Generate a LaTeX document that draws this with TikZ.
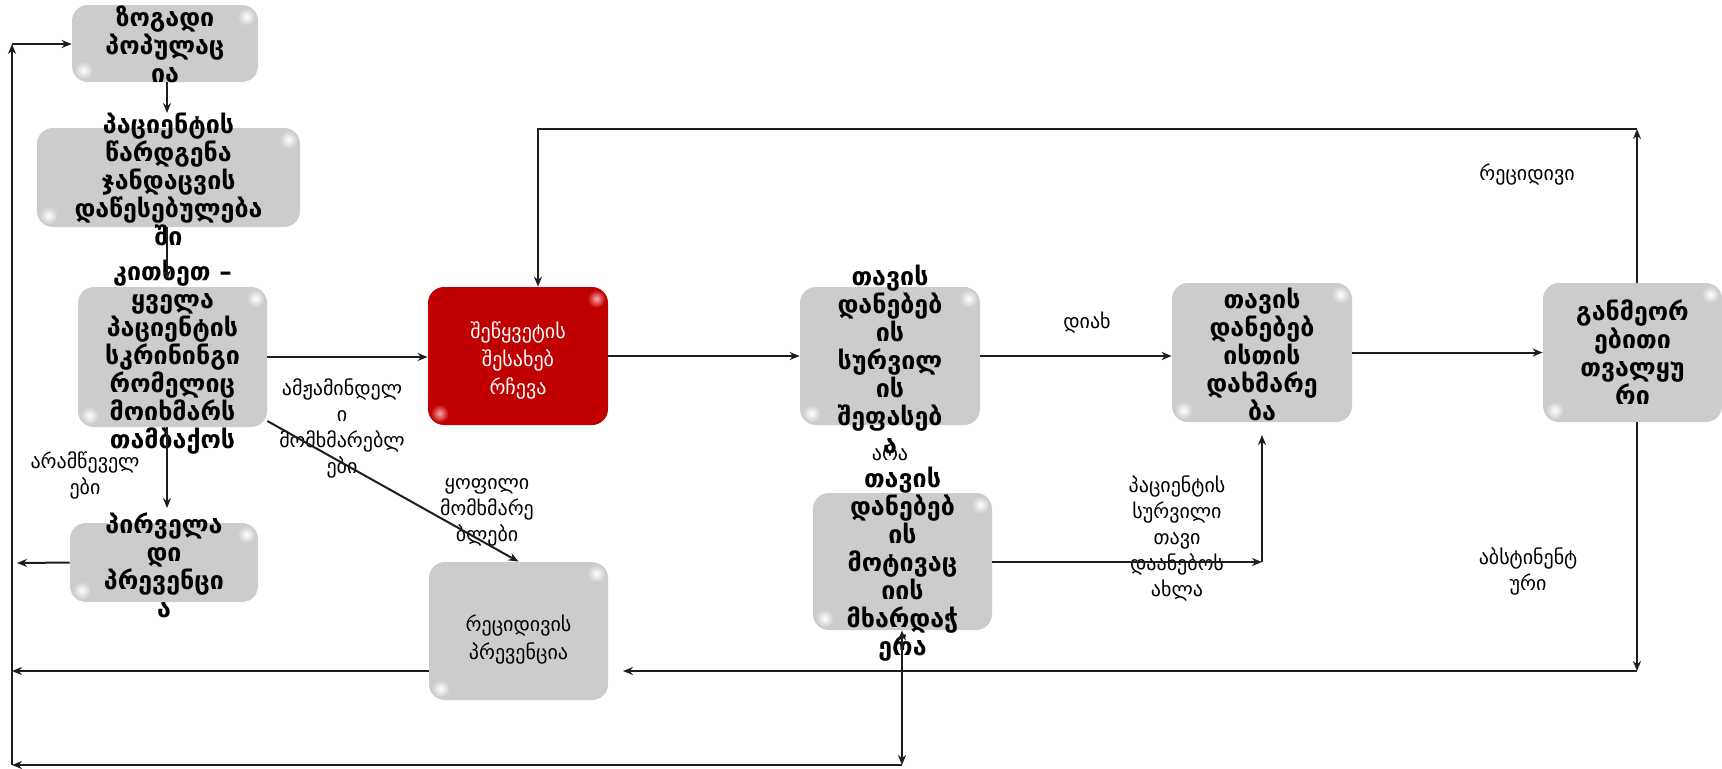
\documentclass[tikz,border=0pt]{standalone}
\usepackage{fontspec}
\setmainfont{DejaVu Sans}
\usetikzlibrary{arrows.meta,calc}
\definecolor{boxgray}{RGB}{205,204,204}
\definecolor{boxred}{RGB}{192,0,0}
\definecolor{linec}{RGB}{30,30,30}
\tikzset{
 box/.style={draw=none, fill=boxgray, rounded corners=8pt, inner sep=0pt},
 redbox/.style={box, fill=boxred},
 btxt/.style={align=center, font=\bfseries\fontsize{12.5}{14}\selectfont, inner sep=0pt},
 wtxt/.style={align=center, font=\fontsize{10}{14}\selectfont, text=white, inner sep=0pt},
 ntxt/.style={align=center, font=\fontsize{10}{14}\selectfont, inner sep=0pt},
 lbl/.style={align=center, font=\fontsize{10}{13}\selectfont, inner sep=0pt},
 arr/.style={draw=linec, line width=1pt, -{Stealth[length=5pt,width=4pt]}},
 arrs/.style={draw=linec, line width=1pt, {Stealth[length=5pt,width=4pt]}-{Stealth[length=5pt,width=4pt]}},
}
\newcommand{\glosspair}[3]{%
 \shade[inner color=#2, outer color=#3] ($(#1.north east)+(-12,12)$) circle[radius=9];
 \shade[inner color=#2, outer color=#3] ($(#1.south west)+(12,-12)$) circle[radius=9];
}
\begin{document}
\begin{tikzpicture}[x=0.5pt,y=-0.5pt]
\fill[white] (0,0) rectangle (1722,768);
\useasboundingbox (0,0) rectangle (1722,768);

% boxes
\node[box, minimum width=93pt, minimum height=38.5pt] (b1) at (165,43.5) {};
\node[box, minimum width=131.5pt, minimum height=49.5pt] (b2) at (168.5,177.5) {};
\node[box, minimum width=94.5pt, minimum height=70pt] (b3) at (172.5,357) {};
\node[box, minimum width=94pt, minimum height=39.5pt] (b4) at (164,562.5) {};
\node[redbox, minimum width=90pt, minimum height=69pt] (b5) at (518,356) {};
\node[box, minimum width=89.5pt, minimum height=69pt] (b6) at (518.5,631) {};
\node[box, minimum width=90pt, minimum height=69pt] (b7) at (890,356) {};
\node[box, minimum width=89.5pt, minimum height=68.5pt] (b8) at (902.5,561.5) {};
\node[box, minimum width=90pt, minimum height=69.5pt] (b9) at (1262,352.5) {};
\node[box, minimum width=89.5pt, minimum height=69.5pt] (b10) at (1632.5,352.5) {};

\glosspair{b1}{white}{boxgray}
\glosspair{b2}{white}{boxgray}
\glosspair{b3}{white}{boxgray}
\glosspair{b4}{white}{boxgray}
\glosspair{b5}{red!35!white}{boxred}
\glosspair{b6}{white}{boxgray}
\glosspair{b7}{white}{boxgray}
\glosspair{b8}{white}{boxgray}
\glosspair{b9}{white}{boxgray}
\glosspair{b10}{white}{boxgray}

% box texts
\node[btxt] (b1t) at ($(b1)+(0,1)$) {ზოგადი\\პოპულაც\\ია};
\node[btxt] (b2t) at ($(b2)+(0,2)$) {პაციენტის\\წარდგენა\\ჯანდაცვის\\დაწესებულება\\ში};
\node[btxt] (b3t) at (b3) {კითხეთ –\\ყველა\\პაციენტის\\სკრინინგი\\რომელიც\\მოიხმარს\\თამბაქოს};
\node[btxt] (b4t) at ($(b4)+(0,3)$) {პირველა\\დი\\პრევენცი\\ა};
\node[wtxt] (b5t) at ($(b5)+(0,4)$) {შეწყვეტის\\შესახებ\\რჩევა};
\node[ntxt] (b6t) at ($(b6)+(0,9)$) {რეციდივის\\პრევენცია};
\node[btxt] (b7t) at ($(b7)+(0,3)$) {თავის\\დანებებ\\ის\\სურვილ\\ის\\შეფასებ\\ა};
\node[btxt] (b8t) at ($(b8)+(0,3)$) {თავის\\დანებებ\\ის\\მოტივაც\\იის\\მხარდაჭ\\ერა};
\node[btxt] (b9t) at ($(b9)+(0,2)$) {თავის\\დანებებ\\ისთის\\დახმარე\\ბა};
\node[btxt] (b10t) at (b10) {განმეორ\\ებითი\\თვალყუ\\რი};

% labels
\node[lbl] (l1) at (85,475) {არამწეველ\\ები};
\node[lbl] (l2) at (342,428) {ამჟამინდელ\\ი\\მომხმარებლ\\ები};
\node[lbl] (l3) at (487,512) {ყოფილი\\მომხმარე\\ბლები};
\node[lbl] (l4) at (1087,323) {დიახ};
\node[lbl] (l5) at (1527,175) {რეციდივი};
\node[lbl] (l6) at (1177,538) {პაციენტის\\სურვილი\\თავი\\დაანებოს\\ახლა};
\node[lbl] (l7) at (1528,571) {აბსტინენტ\\ური};
\node[lbl] (l8) at (890,452) {არა};

% coordinates
\coordinate (a1) at (167,113);
\coordinate (a2) at (167,280);
\coordinate (a3) at (167,508);
\coordinate (a4) at (17,563);
\coordinate (c1) at (1637,129);
\coordinate (c2) at (538,129);
\coordinate (c3) at (1637,671);
\coordinate (c3e) at (623,671);
\coordinate (c4) at (12,671);
\coordinate (c5) at (902,765);
\coordinate (c6) at (12,765);
\coordinate (c7) at (12,44);
\coordinate (c8) at (1262,562);
\coordinate (c9) at (1262,435);

% connectors
\draw[arr] (b1.south -| a1) -- (a1);
\draw[arr] (b2.south -| a2) -- (a2);
\draw[arr] (b3.south -| a3) -- (a3);
\draw[arr] (b4.west) -- (a4);
\draw[arr] (b3.east) -- (b3.east -| b5.west);
\draw[arr] (b3.-34) -- (b6.north);
\draw[arr] (b5.east) -- (b5.east -| b7.west);
\draw[arr] (b7.east) -- (b7.east -| b9.west);
\draw[arr] (b9.east) -- (b9.east -| b10.west);
\draw[arr] (b10.north -| c1) -- (c1);
\draw[arr] (c1) -- (c2) -- (c2 |- b5.north);
\draw[arr] (b10.south -| c3) -- (c3);
\draw[arr] (c3) -- (c3e);
\draw[arr] (b6.west |- c4) -- (c4);
\draw[arrs] (b8.south -| c5) -- (c5);
\draw[arr] (c5) -- (c6);
\draw[arr] (c6) -- (c7);
\draw[arr] (c7) -- (b1.west |- c7);
\draw[arr] (b8.east |- c8) -- (c8);
\draw[arr] (c8) -- (c9);
\end{tikzpicture}
\end{document}
